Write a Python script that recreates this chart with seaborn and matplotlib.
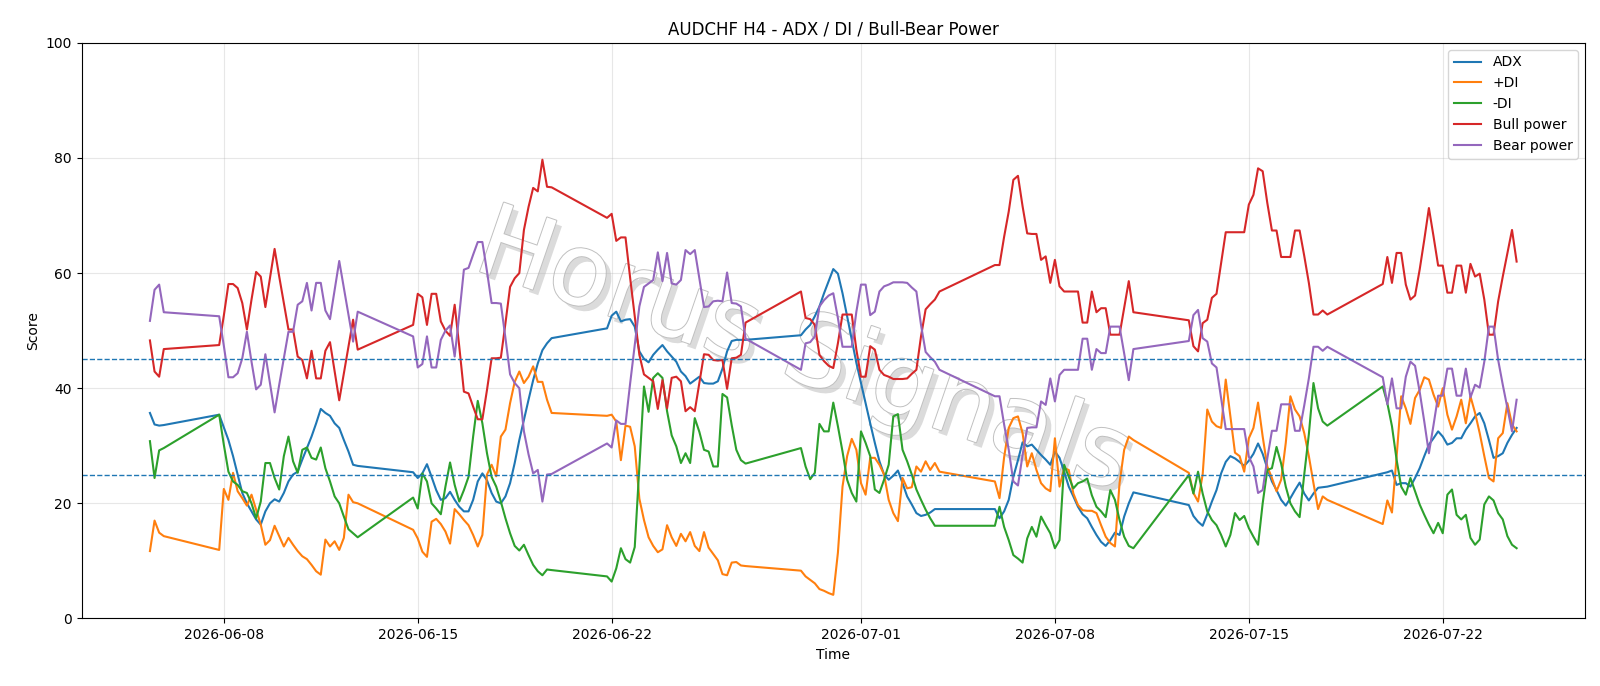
import seaborn as sns
import matplotlib
matplotlib.use("Agg")
import matplotlib.pyplot as plt
import matplotlib.dates as mdates
import matplotlib.patheffects as pe
import pandas as pd
import numpy as np

# H4 bars: (first bar, number of bars) per trading week
segments = [
    ("2026-06-05 08:00", 4),
    ("2026-06-07 20:00", 31),
    ("2026-06-14 20:00", 31),
    ("2026-06-21 20:00", 31),
    ("2026-06-28 20:00", 31),
    ("2026-07-05 20:00", 31),
    ("2026-07-12 20:00", 31),
    ("2026-07-19 20:00", 30),
]

adx = [
    35.7, 33.7, 33.5, 33.6,
    35.4, 33.2, 31.0, 28.2, 25.0, 21.8, 20.0, 18.6, 17.2, 16.3, 18.6, 20.0, 20.7, 20.3, 21.8, 23.8,
    25.0, 25.5, 27.6, 29.6, 31.6, 33.9, 36.4, 35.7, 35.2, 33.9, 33.1, 31.0, 29.0, 26.7, 26.5,
    25.4, 24.4, 25.2, 26.8, 24.6, 22.3, 20.6, 20.9, 22.0, 20.6, 19.4, 18.6, 18.6, 20.6, 23.8, 25.2,
    24.0, 21.8, 20.3, 20.0, 21.2, 23.5, 27.0, 31.0, 34.5, 38.0, 41.4, 44.3, 46.6, 47.8, 48.7,
    50.4, 52.6, 53.3, 51.6, 51.9, 52.0, 50.7, 46.4, 45.1, 44.5, 45.8, 46.7, 47.5, 46.4, 45.5, 44.6,
    42.9, 42.1, 40.8, 41.4, 42.0, 40.9, 40.8, 40.8, 41.2, 43.4, 46.4, 48.2, 48.4, 48.4, 48.4,
    49.2, 50.2, 51.0, 52.5, 54.2, 56.5, 58.6, 60.7, 59.9, 56.5, 52.5, 48.4, 44.4, 40.9, 37.4, 33.9,
    30.5, 27.3, 25.0, 24.1, 24.8, 25.7, 23.5, 21.2, 19.8, 18.3, 17.8, 18.0, 18.4, 19.0, 19.0,
    19.0, 17.4, 18.6, 20.6, 24.6, 27.5, 30.6, 29.9, 30.2, 29.3, 28.4, 27.6, 26.7, 29.0, 27.9, 25.5,
    22.9, 21.2, 19.4, 18.1, 17.4, 15.9, 14.5, 13.3, 12.6, 13.6, 14.9, 14.5, 17.7, 20.0, 21.9,
    19.7, 17.8, 16.8, 16.1, 18.1, 20.3, 22.3, 25.2, 27.2, 28.2, 27.8, 27.2, 26.5, 27.4, 28.6, 30.4,
    28.6, 26.1, 23.8, 22.3, 20.6, 19.6, 20.9, 22.3, 23.6, 21.7, 20.5, 21.7, 22.7, 22.8, 22.9,
    25.2, 25.4, 25.7, 23.2, 23.5, 23.5, 22.9, 24.4, 26.1, 28.2, 30.2, 31.3, 32.5, 31.6, 30.2,
    30.5, 31.3, 31.3, 32.8, 33.9, 35.1, 35.7, 33.9, 31.0, 27.9, 28.2, 28.7, 30.5, 31.9, 33.1,
]

plus_di = [
    11.7, 17.0, 14.9, 14.3,
    11.9, 22.5, 20.6, 25.3, 22.1, 20.9, 19.6, 21.5, 18.9, 16.3, 12.8, 13.6, 16.1, 14.3, 12.5, 14.0,
    12.8, 11.7, 10.8, 10.3, 9.3, 8.2, 7.6, 13.7, 12.5, 13.4, 11.9, 14.0, 21.5, 20.2, 20.0,
    15.4, 13.9, 11.6, 10.7, 16.8, 17.3, 16.4, 15.1, 13.0, 19.0, 18.1, 17.1, 16.2, 14.5, 12.5, 14.5,
    25.0, 26.7, 24.7, 31.6, 32.8, 37.4, 41.1, 42.9, 40.9, 42.0, 43.8, 41.1, 41.1, 38.0, 35.7,
    35.2, 35.4, 34.2, 27.5, 33.5, 33.3, 29.9, 20.8, 17.1, 14.1, 12.6, 11.5, 12.0, 16.2, 14.1, 12.6,
    14.7, 13.4, 15.0, 12.6, 11.7, 15.0, 12.3, 11.2, 10.1, 7.7, 7.5, 9.7, 9.8, 9.2, 9.1,
    8.3, 7.3, 6.7, 6.1, 5.1, 4.8, 4.4, 4.1, 11.4, 22.9, 28.2, 31.2, 29.3, 23.5, 21.5, 27.9,
    27.9, 26.7, 25.0, 20.6, 18.3, 16.9, 24.4, 22.6, 22.8, 26.4, 25.5, 27.3, 25.8, 27.0, 25.5,
    23.8, 20.9, 28.0, 33.1, 34.8, 35.1, 32.2, 26.4, 28.7, 25.8, 23.5, 22.6, 22.1, 31.3, 22.9, 26.1,
    25.8, 21.7, 19.7, 18.8, 18.7, 18.7, 18.3, 16.2, 14.2, 13.1, 12.5, 23.5, 29.3, 31.6, 31.0,
    25.3, 21.8, 20.3, 25.0, 36.3, 34.2, 33.4, 33.1, 41.5, 35.1, 28.8, 28.2, 25.5, 31.3, 33.1, 37.5,
    31.6, 26.4, 24.4, 22.1, 24.1, 30.5, 38.6, 36.3, 35.1, 32.2, 28.2, 23.5, 19.0, 21.2, 20.6,
    16.4, 20.5, 18.4, 28.0, 38.6, 36.5, 33.8, 38.3, 39.7, 41.9, 41.5, 38.9, 36.8, 40.0, 35.4,
    32.8, 35.1, 38.0, 33.9, 38.6, 35.7, 32.2, 28.2, 24.4, 23.8, 31.3, 32.2, 37.4, 33.7, 32.5,
]

minus_di = [
    30.8, 24.4, 29.2, 29.6,
    35.4, 30.2, 25.5, 23.8, 23.2, 22.1, 21.8, 20.0, 17.4, 20.3, 27.0, 27.0, 24.4, 22.4, 28.2, 31.6,
    27.3, 25.3, 29.3, 29.7, 27.9, 27.6, 29.7, 26.1, 23.8, 21.2, 20.0, 17.7, 15.5, 14.8, 14.1,
    21.0, 19.1, 25.2, 23.8, 20.0, 19.1, 18.1, 22.9, 27.1, 23.2, 20.3, 22.3, 24.6, 31.6, 37.8, 33.9,
    28.7, 24.6, 22.9, 20.3, 17.4, 14.8, 12.6, 11.8, 12.8, 11.0, 9.3, 8.2, 7.5, 8.5, 8.4,
    7.3, 6.4, 8.7, 12.2, 10.3, 9.7, 12.4, 26.3, 40.3, 35.9, 41.8, 42.6, 41.8, 36.0, 31.8, 29.9,
    27.0, 28.7, 27.0, 34.8, 32.4, 29.3, 29.0, 26.4, 26.4, 39.0, 38.4, 33.6, 29.3, 27.5, 26.9,
    29.6, 26.4, 24.2, 25.3, 33.8, 32.5, 32.5, 37.5, 33.4, 29.0, 24.1, 21.8, 20.3, 32.5, 30.5, 28.2,
    22.4, 21.8, 24.1, 26.7, 35.1, 35.5, 29.3, 27.3, 25.0, 22.4, 20.6, 18.9, 17.4, 16.1, 16.1,
    16.1, 19.4, 15.9, 13.6, 11.0, 10.4, 9.7, 13.9, 15.9, 14.2, 17.7, 16.2, 14.8, 12.2, 13.6, 26.7,
    24.6, 22.6, 23.5, 23.8, 24.3, 21.4, 19.4, 18.6, 17.6, 22.3, 20.6, 17.1, 14.2, 12.6, 12.2,
    24.9, 21.7, 25.5, 21.7, 18.6, 17.1, 16.2, 14.5, 12.5, 14.5, 18.3, 17.1, 17.8, 15.7, 14.2, 12.8,
    20.0, 25.8, 26.1, 29.8, 26.9, 22.9, 20.0, 18.6, 17.6, 25.0, 32.0, 40.9, 36.5, 34.2, 33.5,
    40.3, 37.4, 33.4, 27.6, 22.9, 21.5, 24.4, 22.1, 19.8, 18.0, 16.3, 14.8, 16.6, 14.8, 21.5,
    22.4, 18.0, 17.2, 18.0, 14.0, 12.8, 13.7, 19.8, 21.2, 20.5, 18.3, 17.2, 14.3, 12.8, 12.2,
]

bull_power = [
    48.3, 42.9, 42.0, 46.8,
    47.5, 52.6, 58.1, 58.1, 57.4, 54.8, 50.2, 55.4, 60.2, 59.4, 54.1, 59.1, 64.2, 59.4, 54.8, 50.2,
    50.2, 45.5, 44.9, 41.7, 46.5, 41.7, 41.7, 46.5, 48.0, 42.9, 37.9, 42.6, 47.3, 51.9, 46.7,
    51.0, 56.4, 55.8, 51.0, 56.4, 56.4, 51.6, 50.0, 49.1, 54.5, 47.2, 39.4, 39.1, 36.8, 34.6, 34.6,
    39.7, 45.2, 45.2, 45.3, 51.3, 57.6, 59.1, 60.0, 67.5, 71.5, 74.8, 74.2, 79.7, 75.0, 74.9,
    69.6, 70.3, 65.6, 66.2, 66.2, 59.2, 52.5, 45.8, 42.4, 41.8, 41.2, 36.4, 41.4, 36.5, 41.8, 42.0,
    41.2, 36.0, 36.7, 36.0, 40.9, 45.9, 45.8, 44.9, 44.8, 44.9, 39.9, 45.2, 45.3, 45.8, 51.4,
    56.8, 52.2, 52.0, 51.0, 45.8, 44.7, 43.9, 43.5, 47.8, 52.8, 52.8, 52.8, 46.7, 42.0, 42.0, 47.3,
    46.7, 43.2, 42.3, 42.0, 41.6, 41.6, 41.6, 41.7, 42.5, 43.2, 49.0, 53.7, 54.6, 55.4, 56.8,
    61.4, 61.4, 66.3, 70.7, 76.2, 76.9, 71.6, 66.9, 66.8, 66.8, 62.3, 62.9, 58.3, 62.3, 57.7, 56.8,
    56.8, 56.8, 56.8, 51.4, 51.4, 56.8, 53.2, 53.9, 53.9, 49.3, 49.3, 49.3, 53.9, 58.6, 53.2,
    51.8, 47.3, 46.4, 51.3, 51.9, 55.7, 56.4, 61.7, 67.1, 67.1, 67.1, 67.1, 67.1, 71.9, 73.6, 78.2,
    77.7, 72.2, 67.4, 67.4, 62.8, 62.8, 62.8, 67.4, 67.4, 63.0, 58.3, 52.8, 52.8, 53.5, 52.8,
    58.1, 62.8, 58.3, 63.5, 63.5, 58.0, 55.4, 56.1, 60.6, 65.8, 71.3, 66.4, 61.3, 61.3, 56.6,
    56.6, 61.3, 61.3, 56.6, 61.6, 59.4, 59.9, 55.4, 49.3, 49.3, 55.1, 59.4, 63.5, 67.5, 62.0,
]

bear_power = [
    51.7, 57.1, 58.0, 53.2,
    52.5, 47.4, 41.9, 41.9, 42.6, 45.2, 49.8, 44.6, 39.8, 40.6, 45.9, 40.9, 35.8, 40.6, 45.2, 49.8,
    49.8, 54.5, 55.1, 58.3, 53.5, 58.3, 58.3, 53.5, 52.0, 57.1, 62.1, 57.4, 52.7, 48.1, 53.3,
    49.0, 43.6, 44.2, 49.0, 43.6, 43.6, 48.4, 50.0, 50.9, 45.5, 52.8, 60.6, 60.9, 63.2, 65.4, 65.4,
    60.3, 54.8, 54.8, 54.7, 48.7, 42.4, 40.9, 40.0, 32.5, 28.5, 25.2, 25.8, 20.3, 25.0, 25.1,
    30.4, 29.7, 34.4, 33.8, 33.8, 40.8, 47.5, 54.2, 57.6, 58.2, 58.8, 63.6, 58.6, 63.5, 58.2, 58.0,
    58.8, 64.0, 63.3, 64.0, 59.1, 54.1, 54.2, 55.1, 55.2, 55.1, 60.1, 54.8, 54.7, 54.2, 48.6,
    43.2, 47.8, 48.0, 49.0, 54.2, 55.3, 56.1, 56.5, 52.2, 47.2, 47.2, 47.2, 53.3, 58.0, 58.0, 52.7,
    53.3, 56.8, 57.7, 58.0, 58.4, 58.4, 58.4, 58.3, 57.5, 56.8, 51.0, 46.3, 45.4, 44.6, 43.2,
    38.6, 38.6, 33.7, 29.3, 23.8, 23.1, 28.4, 33.1, 33.2, 33.2, 37.7, 37.1, 41.7, 37.7, 42.3, 43.2,
    43.2, 43.2, 43.2, 48.6, 48.6, 43.2, 46.8, 46.1, 46.1, 50.7, 50.7, 50.7, 46.1, 41.4, 46.8,
    48.2, 52.7, 53.6, 48.7, 48.1, 44.3, 43.6, 38.3, 32.9, 32.9, 32.9, 32.9, 32.9, 28.1, 26.4, 21.8,
    22.3, 27.8, 32.6, 32.6, 37.2, 37.2, 37.2, 32.6, 32.6, 37.0, 41.7, 47.2, 47.2, 46.5, 47.2,
    41.9, 37.2, 41.7, 36.5, 36.5, 42.0, 44.6, 43.9, 39.4, 34.2, 28.7, 33.6, 38.7, 38.7, 43.4,
    43.4, 38.7, 38.7, 43.4, 38.4, 40.6, 40.1, 44.6, 50.7, 50.7, 44.9, 40.6, 36.5, 32.5, 38.0,
]

times = pd.DatetimeIndex(np.concatenate(
    [pd.date_range(start, periods=n, freq="4h").values for start, n in segments]
))

series = {
    "ADX": adx,
    "+DI": plus_di,
    "-DI": minus_di,
    "Bull power": bull_power,
    "Bear power": bear_power,
}
df = pd.concat(
    [pd.DataFrame({"time": times, "value": vals, "series": name}) for name, vals in series.items()],
    ignore_index=True,
)

fig, ax = plt.subplots(figsize=(16, 6.86), dpi=100)

# watermark: hollow grey letters with a soft shadow, behind everything
ax.text(0.48, 0.46, "Horus Signals", transform=ax.transAxes, fontsize=72,
        rotation=-19, color="white",
        ha="center", va="center", zorder=0,
        path_effects=[
            pe.SimplePatchShadow(offset=(4, -4), shadow_rgbFace="#b0b0b0", alpha=0.45),
            pe.Stroke(linewidth=1.4, foreground="#c0c0c0"),
            pe.Normal(),
        ])

sns.lineplot(data=df, x="time", y="value", hue="series", estimator=None,
             palette=["tab:blue", "tab:orange", "tab:green", "tab:red", "tab:purple"],
             linewidth=1.5, ax=ax)

ax.axhline(25, linestyle="--", linewidth=1, color="tab:blue")
ax.axhline(45, linestyle="--", linewidth=1, color="tab:blue")

ax.set_ylim(0, 100)
ax.grid(True, alpha=0.3)
ax.xaxis.set_major_locator(mdates.DayLocator(bymonthday=[1, 8, 15, 22]))
ax.xaxis.set_major_formatter(mdates.DateFormatter("%Y-%m-%d"))
ax.set_title("AUDCHF H4 - ADX / DI / Bull-Bear Power")
ax.set_xlabel("Time")
ax.set_ylabel("Score")
ax.legend(loc="upper right")

fig.subplots_adjust(left=0.051, right=0.9906, top=0.9375, bottom=0.0985)
fig.savefig("out.png", dpi=100)
